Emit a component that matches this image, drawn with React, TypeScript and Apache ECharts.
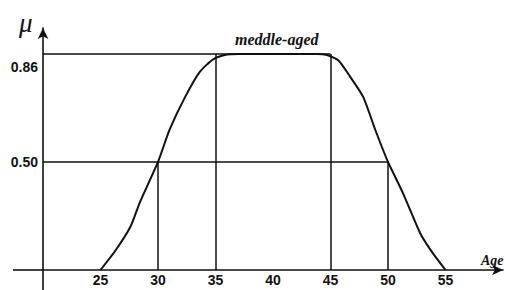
import React, { useEffect, useRef } from "react";
import * as echarts from "echarts";

// membership curve "meddle-aged" (age, mu)
const curveAge = [25, 26.3, 27.6, 28.4, 30, 31, 32.35, 33.65, 34.8, 36, 37, 43.8, 44.7, 45.7, 46.7, 47.85, 48.9, 50, 51.3, 52.8, 53.8, 55];
const curveMu = [0, 0.09, 0.2, 0.31, 0.5, 0.648, 0.8, 0.918, 0.975, 0.997, 1, 1, 0.995, 0.97, 0.895, 0.8, 0.648, 0.5, 0.356, 0.17, 0.085, 0];

// guide lines (vertical at these ages up to these mu)
const guideAges = [30, 35, 45, 50];
const guideTops = [0.5, 1, 1, 0.5];
// horizontal guide lines (mu level, extending to this age)
const hLevels = [0.5, 1];
const hEnds = [50, 45];

const xTicks = [25, 30, 35, 40, 45, 50, 55];
const yTickValues = [0.5, 0.94];
const yTickLabels = ["0.50", "0.86"];

const curveName = "meddle-aged";
const xName = "Age";
const yName = "μ";

export default function App() {
  const ref = useRef<HTMLDivElement>(null);
  useEffect(() => {
    if (!ref.current) return;
    const chart = echarts.init(ref.current, undefined, { renderer: "svg" });
    const markData: any[] = [];
    guideAges.forEach((a, i) => {
      markData.push([{ coord: [a, 0] }, { coord: [a, guideTops[i]] }]);
    });
    hLevels.forEach((l, i) => {
      markData.push([{ coord: [20, l] }, { coord: [hEnds[i], l] }]);
    });
    const labelFont = {
      fontFamily: "Liberation Sans",
      fontWeight: "bold" as const,
      fontSize: 14,
      color: "#111",
    };
    chart.setOption({
      animation: false,
      backgroundColor: "#fff",
      grid: { left: 43, top: 28, width: 460, height: 242, containLabel: false },
      xAxis: {
        type: "value",
        min: 20,
        max: 60,
        axisLine: {
          lineStyle: { color: "#111", width: 1.6 },
          symbol: ["none", "arrow"],
          symbolSize: [8, 11],
        },
        axisTick: { show: false },
        splitLine: { show: false },
        axisLabel: {
          ...labelFont,
          margin: 3,
          customValues: xTicks,
          formatter: (v: number) => String(v),
        },
      },
      yAxis: {
        type: "value",
        min: 0,
        max: 1.12,
        axisLine: {
          show: true,
          lineStyle: { color: "#111", width: 1.6 },
          symbol: ["none", "arrow"],
          symbolSize: [8, 11],
        },
        axisTick: { show: false },
        splitLine: { show: false },
        axisLabel: {
          ...labelFont,
          margin: 5,
          customValues: yTickValues,
          formatter: (v: number) => {
            let best = 0;
            yTickValues.forEach((t, i) => {
              if (Math.abs(t - v) < Math.abs(yTickValues[best] - v)) best = i;
            });
            return yTickLabels[best];
          },
        },
      },
      graphic: [
        { type: "line", shape: { x1: 13, y1: 270, x2: 43, y2: 270 }, style: { stroke: "#111", lineWidth: 1.6 } },
        { type: "line", shape: { x1: 43, y1: 270, x2: 43, y2: 290 }, style: { stroke: "#111", lineWidth: 1.6 } },
        {
          type: "text",
          left: 19,
          top: 9,
          style: { text: yName, fontFamily: "Liberation Serif", fontStyle: "italic", fontSize: 27, fill: "#111" },
        },
        {
          type: "text",
          left: 235,
          top: 31,
          style: { text: curveName, fontFamily: "Liberation Serif", fontStyle: "italic", fontWeight: "bold", fontSize: 16, fill: "#111" },
        },
        {
          type: "text",
          left: 481,
          top: 253,
          style: { text: xName, fontFamily: "Liberation Serif", fontStyle: "italic", fontWeight: "bold", fontSize: 14, fill: "#111" },
        },
      ],
      series: [
        {
          type: "line",
          name: curveName,
          data: curveAge.map((a, i) => [a, curveMu[i]]),
          showSymbol: false,
          smooth: 0.2,
          lineStyle: { color: "#111", width: 2 },
          markLine: {
            silent: true,
            symbol: ["none", "none"],
            label: { show: false },
            lineStyle: { color: "#111", width: 1.5, type: "solid" },
            data: markData,
          },
        },
      ],
    });
    return () => chart.dispose();
  }, []);
  return <div ref={ref} style={{ width: 505, height: 290, position: "absolute", left: 0, top: 0 }} />;
}
